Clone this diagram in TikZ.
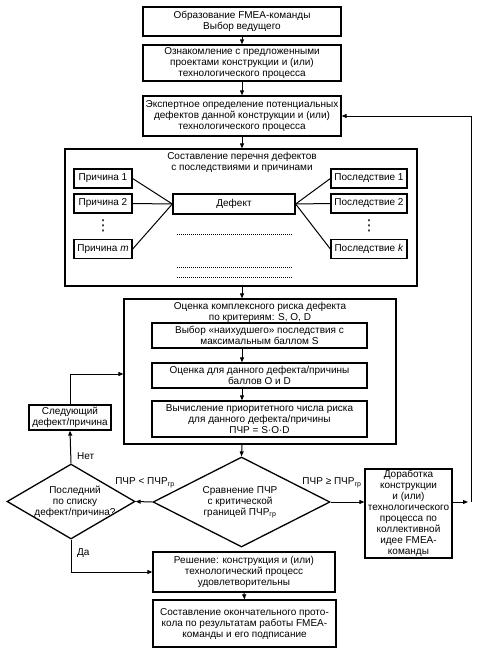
\documentclass[tikz,border=0pt]{standalone}
\usepackage{fontspec}
\setmainfont{Liberation Sans}
\newfontfamily\dejavu{DejaVu Sans}
\usetikzlibrary{shapes.geometric,arrows.meta,calc}
\begin{document}
\begin{tikzpicture}[x=1pt,y=-1pt,
  font=\fontsize{10}{11}\selectfont,
  box/.style={draw,line width=1.3pt,inner sep=0.5pt,align=center},
  dia/.style={draw,line width=1.3pt,shape=diamond,inner sep=0pt},
  txt/.style={inner sep=0pt,align=center},
  vd/.style={inner sep=0pt,font=\dejavu\fontsize{15}{15}\selectfont},
  arr/.style={line width=1pt,-{Triangle[length=5pt,width=4pt]}},
  ln/.style={line width=1pt},
  dotl/.style={line width=0.9pt,dash pattern=on 0.9pt off 1.1pt}]
\useasboundingbox (0,0) rectangle (480,651);
\coordinate (axis) at (242,0);
% top chain
\node[box,minimum width=198,minimum height=29] (b1) at (242,21.5) {Образование FMEA-команды\\Выбор ведущего};
\node[box,minimum width=198,minimum height=36] (b2) at (242,63) {Ознакомление с предложенными\\проектами конструкции и (или)\\технологического процесса};
\node[box,minimum width=198,minimum height=40] (b3) at (242,116) {Экспертное определение потенциальных\\дефектов данной конструкции и (или)\\технологического процесса};
% big box 4
\node[box,minimum width=352,minimum height=137] (b4) at (241,217.5) {};
\node[txt] (b4t) at (242,162.5) {Составление перечня дефектов\\с последствиями и причинами};
\node[box,minimum width=58,minimum height=19] (p1) at (103,178.5) {Причина 1};
\node[box,minimum width=58,minimum height=19] (p2) at (103,203.5) {Причина 2};
\node[box,minimum width=58,minimum height=19] (pm) at (103,249) {Причина \textit{m}};
\node[vd] (pd) at (103,226) {⋮};
\node[box,minimum width=76,minimum height=19] (s1) at (369,178.5) {Последствие 1};
\node[box,minimum width=76,minimum height=19] (s2) at (369,203.5) {Последствие 2};
\node[box,minimum width=76,minimum height=19] (sk) at (369,249) {Последствие \textit{k}};
\node[vd] (sd) at (369,226) {⋮};
\node[box,minimum width=122,minimum height=20] (def) at (234,204) {Дефект};
\draw[ln] (p1.east) -- (def.west);
\draw[ln] (p2.east) -- (def.west);
\draw[ln] (pm.east) -- (def.west);
\draw[ln] (s1.west) -- (def.east);
\draw[ln] (s2.west) -- (def.east);
\draw[ln] (sk.west) -- (def.east);
\draw[dotl] (177,234) -- (292,234);
\draw[dotl] (177,267) -- (292,267);
\draw[dotl] (177,277) -- (292,277);
% big box 5
\node[box,minimum width=272,minimum height=145] (b5) at (260,371.5) {};
\node[txt] (b5t) at (260,312) {Оценка комплексного риска дефекта\\по критериям: S, O, D};
\node[box,minimum width=215,minimum height=25] (ia) at (259.5,335.5) {Выбор «наихудшего» последствия с\\максимальным баллом S};
\node[box,minimum width=215,minimum height=25] (ib) at (259.5,375.5) {Оценка для данного дефекта/причины\\баллов O и D};
\node[box,minimum width=215,minimum height=36] (ic) at (259.5,419) {Вычисление приоритетного числа риска\\для данного дефекта/причины\\ПЧР = S·O·D};
% left
\node[box,minimum width=82,minimum height=25] (nx) at (70,417.5) {Следующий\\дефект/причина};
% diamonds
\node[dia,minimum width=177,minimum height=90] (cmp) at (241.5,502) {};
\node[txt] (cmpt) at (240,502) {Сравнение ПЧР\\с критической\\границей ПЧР\textsubscript{гр}};
\node[dia,minimum width=128,minimum height=75] (last) at (71,501.5) {};
\node[txt] (lastt) at (75,502) {Последний\\по списку\\дефект/причина?};
% right
\node[box,minimum width=87,minimum height=89,inner sep=0pt] (dor) at (408.5,513.5) {Доработка\\конструкции\\и (или)\\технологического\\процесса по\\коллективной\\идее FMEA-\\команды};
% bottom
\node[box,minimum width=182,minimum height=40] (ren) at (244,572) {Решение: конструкция и (или)\\технологический процесс\\удовлетворительны};
\node[box,minimum width=183,minimum height=47] (fin) at (244.5,623.5) {Составление окончательного прото-\\кола по результатам работы FMEA-\\команды и его подписание};
% labels
\node[txt] (lless) at (145,483) {ПЧР < ПЧР\textsubscript{гр}};
\node[txt] (lge) at (332,483) {ПЧР ≥ ПЧР\textsubscript{гр}};
\node[txt,anchor=west] (lnet) at (77,456) {Нет};
\node[txt,anchor=west] (lda) at (77,553) {Да};
\coordinate (rt) at (471,502);
\coordinate (b5in) at ($(b5.west)+(0,2.5)$);
% connectors
\draw[arr] (b1.south -| axis) -- (b2.north -| axis);
\draw[arr] (b2.south -| axis) -- (b3.north -| axis);
\draw[arr] (b3.south -| axis) -- (b4.north -| axis);
\draw[arr] (b4.south -| axis) -- (b5.north -| axis);
\draw[arr] (ia.south -| axis) -- (ib.north -| axis);
\draw[arr] (ib.south -| axis) -- (ic.north -| axis);
\draw[arr] (b5.south -| axis) -- (cmp.north);
\draw[arr] (cmp.west) -- (last.east);
\draw[arr] (last.north) -- (nx.south);
\draw[arr] (nx.north) |- (b5in);
\draw[arr] (cmp.east) -- (cmp.east -| dor.west);
\coordinate (rtin) at ($(rt)+(-3,0)$);
\draw[arr] (dor.east |- cmp.east) -- (rtin);
\draw[arr] (rt) |- (b3.east);
\draw[arr] (last.south) |- (ren.west);
\draw[arr] (ren.south) -- (fin.north);
\end{tikzpicture}
\end{document}
